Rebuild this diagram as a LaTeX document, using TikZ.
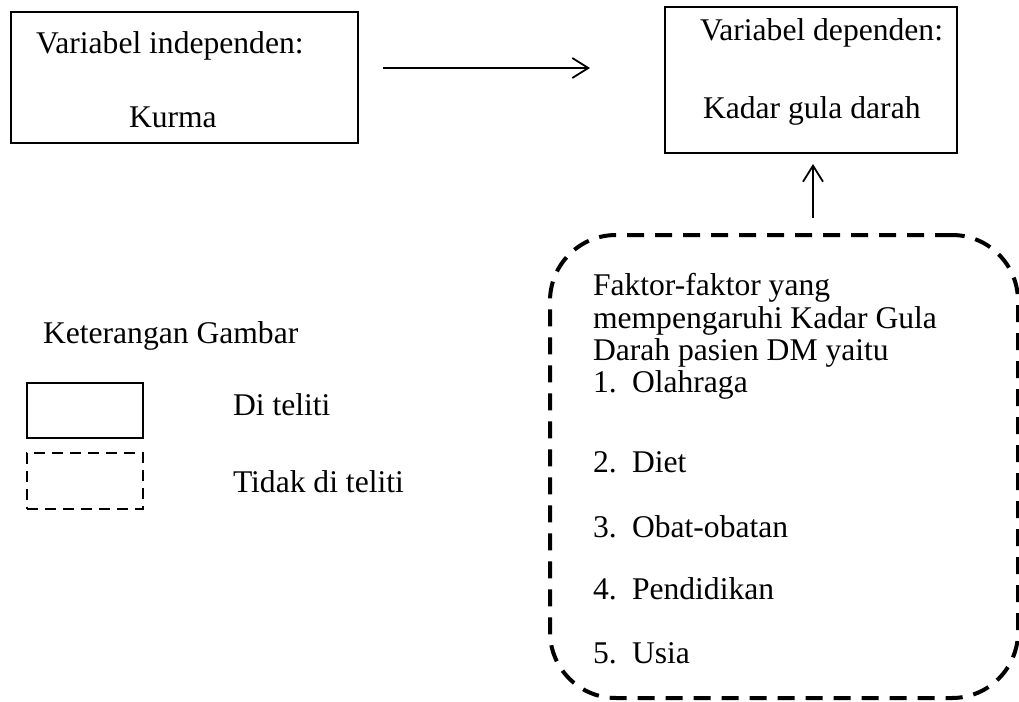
\documentclass[tikz,border=0pt]{standalone}
\usepackage{fontspec}
\setmainfont{Liberation Serif}
\usetikzlibrary{arrows.meta}
\begin{document}
\begin{tikzpicture}[x=0.5pt,y=-0.5pt,
  every node/.style={font=\fontsize{15.8}{19}\selectfont, inner sep=0pt, outer sep=0pt},
  solidbox/.style={draw, line width=1.3pt, rectangle},
  dashbox/.style={draw, line width=2pt, dash pattern=on 8.5pt off 5.5pt, rounded corners=33pt},
  legdash/.style={draw, line width=1.3pt, dash pattern=on 5.5pt off 3.5pt},
  conn/.style={line width=0.9pt, -{Straight Barb[length=8pt,width=10pt,line width=0.9pt]}},
  txt/.style={anchor=base west}]
\useasboundingbox (0,0) rectangle (1019,702);
% main boxes
\node[solidbox, minimum width=173.5pt, minimum height=65.5pt] (iv) at (184.5,77.5) {};
\node[txt] (ivt1) at (36,53) {Variabel independen:};
\node[txt] (ivt2) at (129,127) {Kurma};
\node[solidbox, minimum width=146pt, minimum height=73pt] (dv) at (811,80) {};
\node[txt] (dvt1) at (700,40) {Variabel dependen:};
\node[txt] (dvt2) at (703,118) {Kadar gula darah};
% factors box
\node[dashbox, minimum width=234pt, minimum height=231.5pt] (fac) at (784,466.5) {};
\node[txt] (f1) at (593,295) {Faktor-faktor yang};
\node[txt] (f2) at (593,328) {mempengaruhi Kadar Gula};
\node[txt] (f3) at (593,360) {Darah pasien DM yaitu};
\node[txt] (n1) at (593,392) {1.};
\node[txt] (i1) at (632,392) {Olahraga};
\node[txt] (n2) at (593,472) {2.};
\node[txt] (i2) at (632,472) {Diet};
\node[txt] (n3) at (593,537) {3.};
\node[txt] (i3) at (632,537) {Obat-obatan};
\node[txt] (n4) at (593,599) {4.};
\node[txt] (i4) at (632,599) {Pendidikan};
\node[txt] (n5) at (593,663) {5.};
\node[txt] (i5) at (632,663) {Usia};
% connectors
\coordinate (a1s) at (383,68);
\coordinate (a1e) at (590,68);
\draw[conn] (a1s) -- (a1e);
\coordinate (a2s) at (813,218);
\coordinate (a2e) at (813,164);
\draw[conn] (a2s) -- (a2e);
% legend
\node[txt] (leg) at (43,343) {Keterangan Gambar};
\node[solidbox, minimum width=58pt, minimum height=27.5pt] (ls) at (85,410.5) {};
\node[txt] (lst) at (233,415) {Di teliti};
\node[legdash, minimum width=58pt, minimum height=28pt] (ld) at (85,481) {};
\node[txt] (ldt) at (233,492) {Tidak di teliti};
\end{tikzpicture}
\end{document}
